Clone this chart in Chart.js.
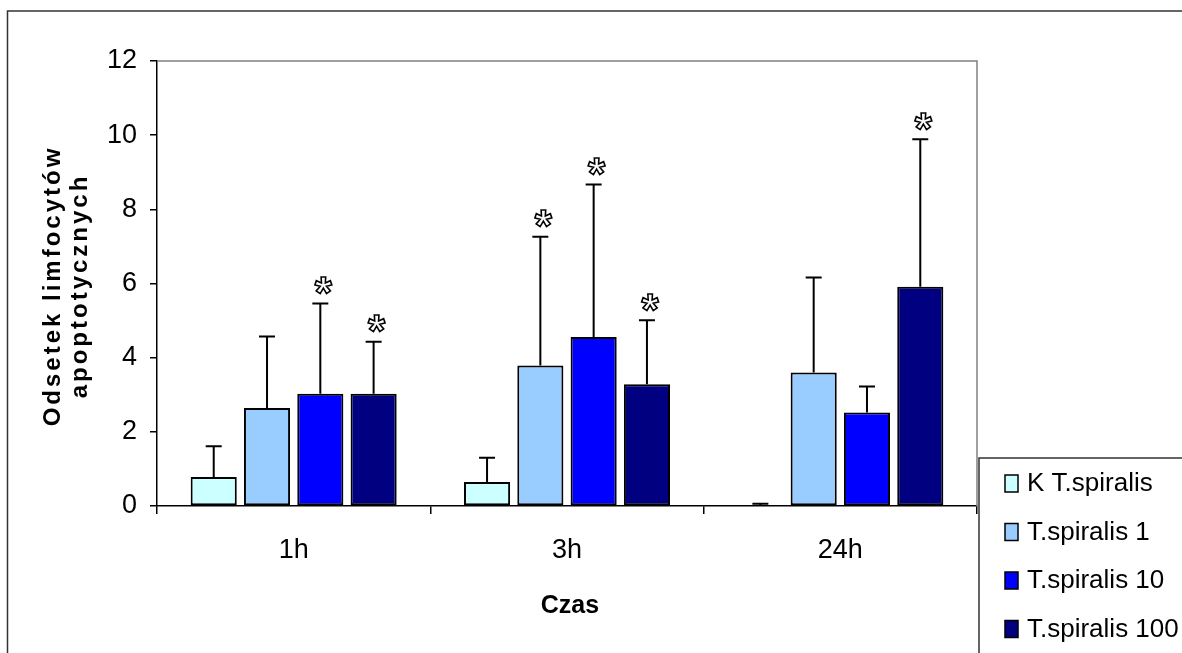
<!DOCTYPE html>
<html>
<head>
<meta charset="utf-8">
<title>Odsetek limfocytów apoptotycznych</title>
<script src="https://cdn.jsdelivr.net/npm/chart.js@4.4.1/dist/chart.umd.min.js"></script>
<style>
    html, body { margin: 0; padding: 0; background: #fff; }
    #wrap { position: relative; width: 1182px; height: 653px; }
</style>
</head>
<body>
<div id="wrap"><canvas id="chart"></canvas></div>
<script>
'use strict';

// Data
const categories = ['1h', '3h', '24h'];
const seriesNames = ['K T.spiralis', 'T.spiralis 1', 'T.spiralis 10', 'T.spiralis 100'];
const seriesColors = ['#CCFFFF', '#99CCFF', '#0000FF', '#000080'];

const kValues = [0.78, 0.65, 0.0];
const t1Values = [2.64, 3.79, 3.60];
const t10Values = [3.03, 4.56, 2.52];
const t100Values = [3.03, 3.28, 5.91];

// upper end of each error bar
const kErrTop = [1.61, 1.30, 0.06];
const t1ErrTop = [4.57, 7.26, 6.16];
const t10ErrTop = [5.46, 8.67, 3.22];
const t100ErrTop = [4.43, 5.01, 9.89];

// significant difference (asterisk)
const kSig = [false, false, false];
const t1Sig = [false, true, false];
const t10Sig = [true, true, false];
const t100Sig = [true, true, true];

const yTicks = [0, 2, 4, 6, 8, 10, 12];

const yTitle = ['Odsetek limfocytów', 'apoptotycznych'];
const xTitle = 'Czas';

const TICK_FONT = '"Liberation Sans Narrow", "Liberation Sans", Arial, sans-serif';
const TEXT_FONT = '"Liberation Sans", Arial, sans-serif';

const seriesValues = [kValues, t1Values, t10Values, t100Values];
const seriesErr = [kErrTop, t1ErrTop, t10ErrTop, t100ErrTop];
const seriesSig = [kSig, t1Sig, t10Sig, t100Sig];

const datasets = seriesNames.map(function(name, i) {
    return {
        label: name,
        data: seriesValues[i],
        errTop: seriesErr[i],
        sig: seriesSig[i],
        backgroundColor: seriesColors[i],
        borderColor: '#000',
        borderWidth: 2,
        borderSkipped: false,
        categoryPercentage: 0.78,
        barPercentage: 0.865
    };
});

// Draw text one char at a time so the spacing can be widened
function spacedText(ctx, text, x, y, spacing) {
    let total = 0;
    for (const ch of text) total += ctx.measureText(ch).width + spacing;
    total -= spacing;
    let pos = x - total / 2;
    for (const ch of text) {
        ctx.fillText(ch, pos, y);
        pos += ctx.measureText(ch).width + spacing;
    }
}

const framePlugin = {
    id: 'frame',
    beforeDraw: function(chart) {
        const ctx = chart.ctx;
        ctx.save();
        ctx.fillStyle = '#fff';
        ctx.fillRect(0, 0, chart.width, chart.height);
        ctx.strokeStyle = '#333';
        ctx.lineWidth = 1.5;
        ctx.strokeRect(7.5, 11, chart.width + 20, chart.height + 20);
        ctx.restore();
    },
    beforeDatasetsDraw: function(chart) {
        const ctx = chart.ctx;
        const a = chart.chartArea;
        ctx.save();
        ctx.strokeStyle = '#808080';
        ctx.lineWidth = 1.5;
        ctx.beginPath();
        ctx.moveTo(a.left, a.top);
        ctx.lineTo(a.right, a.top);
        ctx.lineTo(a.right, a.bottom);
        ctx.stroke();
        ctx.restore();
    },
    afterDatasetsDraw: function(chart) {
        const ctx = chart.ctx;
        const yScale = chart.scales.y;
        ctx.save();
        chart.data.datasets.forEach(function(ds, i) {
            const meta = chart.getDatasetMeta(i);
            meta.data.forEach(function(bar, j) {
                const top = yScale.getPixelForValue(ds.errTop[j]);
                // error bar (upper half only)
                ctx.strokeStyle = '#000';
                ctx.lineWidth = 2;
                ctx.beginPath();
                ctx.moveTo(bar.x, bar.y);
                ctx.lineTo(bar.x, top);
                ctx.moveTo(bar.x - 8, top);
                ctx.lineTo(bar.x + 8, top);
                ctx.stroke();

                if (ds.sig[j]) {
                    ctx.font = 'bold 44px ' + TEXT_FONT;
                    ctx.textAlign = 'center';
                    ctx.textBaseline = 'alphabetic';
                    const m = ctx.measureText('*');
                    const cy = top - 18;
                    const by = cy + (m.actualBoundingBoxAscent - m.actualBoundingBoxDescent) / 2;
                    ctx.fillStyle = '#fff';
                    ctx.fillText('*', bar.x + 3, by);
                    ctx.lineWidth = 1.6;
                    ctx.strokeText('*', bar.x + 3, by);
                }
            });
        });
        ctx.restore();
    },
    afterDraw: function(chart) {
        const ctx = chart.ctx;
        const a = chart.chartArea;
        ctx.save();
        ctx.fillStyle = '#000';

        // axis titles
        ctx.font = 'bold 25px ' + TEXT_FONT;
        ctx.textAlign = 'left';
        ctx.textBaseline = 'alphabetic';
        spacedText(ctx, xTitle, (a.left + a.right) / 2 + 3, 613, 0);

        ctx.font = 'bold 24px ' + TEXT_FONT;
        ctx.translate(0, (a.top + a.bottom) / 2 + 4);
        ctx.rotate(-Math.PI / 2);
        spacedText(ctx, yTitle[0], 0, 60, 3);
        spacedText(ctx, yTitle[1], 0, 87, 3);
        ctx.setTransform(1, 0, 0, 1, 0, 0);

        // legend box
        const lx = 979, ly = 458;
        ctx.strokeStyle = '#333';
        ctx.lineWidth = 1.5;
        ctx.strokeRect(lx, ly, 400, 400);
        ctx.font = '26px ' + TEXT_FONT;
        ctx.textBaseline = 'middle';
        chart.data.datasets.forEach(function(ds, i) {
            const cy = 483 + i * 48.5;
            ctx.fillStyle = ds.backgroundColor;
            ctx.fillRect(1005, cy - 8, 13, 17);
            ctx.strokeStyle = '#000';
            ctx.lineWidth = 1.5;
            ctx.strokeRect(1005, cy - 8, 13, 17);
            ctx.fillStyle = '#000';
            ctx.fillText(ds.label, 1027, cy + 1);
        });
        ctx.restore();
    }
};

new Chart(document.getElementById('chart'), {
    type: 'bar',
    data: {
        labels: categories,
        datasets: datasets
    },
    options: {
        responsive: true,
        maintainAspectRatio: false,
        animation: false,
        layout: {
            padding: { left: 0, top: 61, right: 205, bottom: 0 }
        },
        plugins: {
            legend: { display: false },
            tooltip: { enabled: false },
            title: { display: false }
        },
        scales: {
            y: {
                min: yTicks[0],
                max: yTicks[yTicks.length - 1],
                afterFit: function(scale) { scale.width = 157; },
                afterBuildTicks: function(scale) {
                    scale.ticks = yTicks.map(function(v) { return { value: v }; });
                },
                border: { color: '#000', width: 1.5 },
                grid: {
                    drawOnChartArea: false,
                    drawTicks: true,
                    tickLength: 7,
                    color: '#000',
                    lineWidth: 1.5
                },
                ticks: {
                    color: '#000',
                    padding: 13,
                    font: { family: TICK_FONT, size: 27 }
                }
            },
            x: {
                afterFit: function(scale) { scale.height = 147; },
                border: { color: '#000', width: 1.5 },
                grid: {
                    offset: true,
                    drawOnChartArea: false,
                    drawTicks: true,
                    tickLength: 8,
                    color: '#000',
                    lineWidth: 1.5
                },
                ticks: {
                    color: '#000',
                    padding: 20,
                    font: { family: TICK_FONT, size: 27 }
                }
            }
        }
    },
    plugins: [framePlugin]
});
</script>
</body>
</html>
